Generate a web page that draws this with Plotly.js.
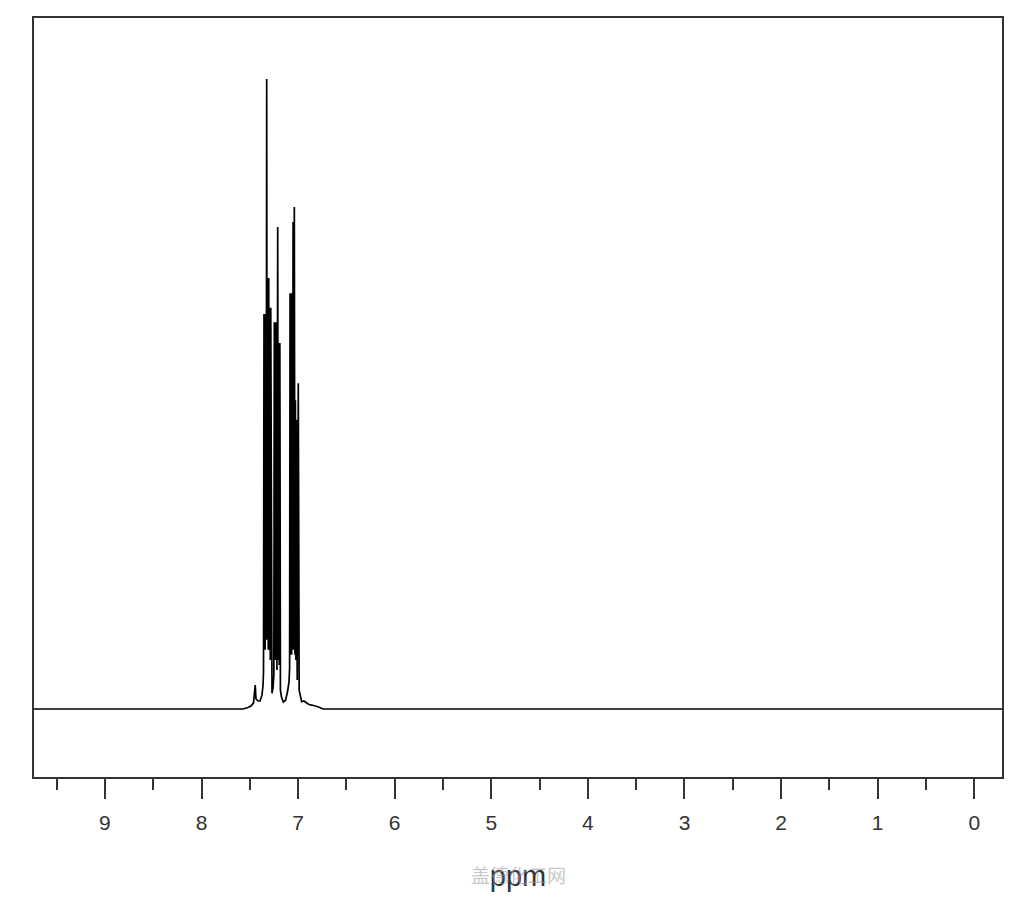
<!DOCTYPE html>
<html>
<head>
<meta charset="utf-8">
<script src="https://cdn.plot.ly/plotly-3.0.1.min.js"></script>
<style>
html,body{margin:0;padding:0;background:#fff;}
#chart{width:1024px;height:900px;}
</style>
</head>
<body>
<div id="chart"></div>
<script>
// Chemical shift (ppm) and relative intensity
const ppm = [
  9.80, 7.570, 7.519, 7.488, 7.462, 7.451, 7.444, 7.436, 7.415, 7.394, 7.374, 7.363, 7.358,
  7.353, 7.349, 7.345, 7.341, 7.336, 7.331, 7.325, 7.320, 7.315, 7.309, 7.304, 7.298, 7.293, 7.288, 7.283,
  7.277, 7.270, 7.260, 7.251,
  7.246, 7.241, 7.236, 7.231, 7.226, 7.219, 7.211, 7.205, 7.200, 7.195, 7.189,
  7.183, 7.172, 7.153, 7.130, 7.110, 7.094, 7.088,
  7.083, 7.078, 7.072, 7.067, 7.062, 7.057, 7.052, 7.047, 7.039, 7.033, 7.028, 7.023, 7.018, 7.009, 6.998,
  6.989, 6.963, 6.939, 6.911, 6.887, 6.859, 6.825, 6.794, 6.742, -0.40
];
const intensity = [
  0, 0, 0.24, 0.48, 0.95, 2.7, 3.8, 1.6, 1.27, 1.27, 2.2, 3.8, 5.9,
  62.7, 9.4, 62.7, 9.4, 62.7, 11.0, 100, 11.0, 68.4, 9.4, 68.4, 9.4, 63.7, 7.8, 63.7,
  3.0, 2.5, 3.3, 5.4,
  61.4, 7.8, 61.4, 7.8, 61.4, 6.2, 76.5, 7.8, 58.1, 7.0, 58.1,
  3.0, 1.9, 1.1, 1.4, 2.7, 4.3, 6.5,
  66.0, 8.6, 66.0, 8.6, 66.0, 9.4, 77.3, 9.4, 79.7, 8.6, 49.0, 7.8, 45.9, 4.6, 51.7,
  3.0, 1.16, 1.27, 0.95, 0.71, 0.63, 0.48, 0.37, 0, 0
];
const tickVals = [9, 8, 7, 6, 5, 4, 3, 2, 1, 0];
const tickText = ['9', '8', '7', '6', '5', '4', '3', '2', '1', '0'];
const axisTitle = 'ppm';
const watermark = '盖德化工网';

const trace = {
  x: ppm, y: intensity, type: 'scatter', mode: 'lines',
  line: {color: '#000', width: 1.7},
  hoverinfo: 'skip'
};

const layout = {
  width: 1024, height: 900,
  margin: {l: 34, r: 22, t: 18, b: 123},
  paper_bgcolor: '#fff', plot_bgcolor: '#fff',
  showlegend: false,
  xaxis: {
    range: [9.734, -0.287],
    tickmode: 'array', tickvals: tickVals, ticktext: tickText,
    ticks: 'outside', ticklen: 20, tickwidth: 2, tickcolor: '#333',
    minor: {dtick: 0.5, tick0: 0, ticks: 'outside', ticklen: 11, tickwidth: 2, tickcolor: '#333', showgrid: false},
    showgrid: false, zeroline: false,
    showline: true, mirror: true, linecolor: '#333', linewidth: 2,
    tickfont: {family: 'Liberation Sans, Arial, sans-serif', size: 21, color: '#333'},
    ticklabelstandoff: 6,
    title: {text: axisTitle, font: {family: 'Liberation Sans, Arial, sans-serif', size: 29, color: '#333'}, standoff: 32}
  },
  yaxis: {
    range: [-10.79, 109.68],
    showticklabels: false, ticks: '', showgrid: false, zeroline: false,
    showline: true, mirror: true, linecolor: '#333', linewidth: 2
  },
  annotations: [{
    text: watermark, xref: 'paper', yref: 'paper', x: 0.5, y: -0.129,
    xanchor: 'center', yanchor: 'middle', showarrow: false,
    font: {family: 'Noto Sans CJK SC, sans-serif', size: 19, color: 'rgba(150,150,150,0.55)'}
  }]
};

Plotly.newPlot('chart', [trace], layout, {staticPlot: true, displayModeBar: false});
</script>
</body>
</html>
